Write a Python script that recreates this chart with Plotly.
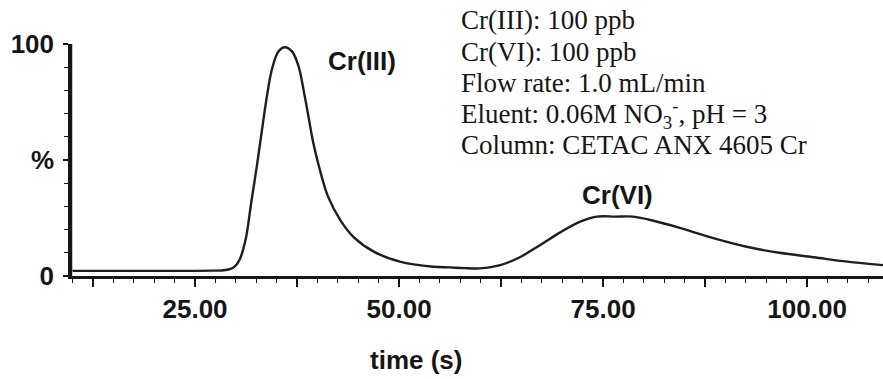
import plotly.graph_objects as go

# Chromatogram trace
time_s = [10.0, 20.0, 27.0, 28.5, 29.2, 29.7, 30.1, 30.5, 30.9, 31.3, 31.9, 32.6, 33.2, 33.8, 34.4,
          35.2, 36.0, 36.9, 37.7, 38.3, 38.9, 39.5, 40.3, 41.3, 42.8, 44.4, 46.9, 50.1,
          54.2, 56.2, 58.0, 59.9, 62.4, 64.8, 67.3, 69.7, 72.2, 74.2, 76.5, 78.7, 81.2,
          84.5, 88.5, 92.6, 96.6, 100.8, 104.9, 109.3]
intensity = [2.2, 2.2, 2.3, 2.5, 2.9, 3.7, 5.0, 7.3, 11.5, 17.5, 32.0, 48.0, 62.9, 77.3, 88.8,
             96.7, 98.6, 96.7, 90.2, 80.2, 68.7, 57.2, 45.7, 34.2, 24.1, 16.9, 10.5, 6.2,
             4.0, 3.7, 3.4, 3.3, 4.7, 8.1, 13.4, 18.7, 23.4, 25.6, 25.6, 25.6, 23.8,
             20.6, 16.3, 12.6, 10.0, 8.1, 6.2, 4.7]

x_tickvals = [12.5, 25, 37.5, 50, 62.5, 75, 87.5, 100]
x_ticktext = ["", "25.00", "", "50.00", "", "75.00", "", "100.00"]
y_tickvals = [0, 50, 100]
y_ticktext = ["0", "%", "100"]

peak_names = ["Cr(III)", "Cr(VI)"]
peak_label_x = [45.5, 76.8]
peak_label_y = [92.7, 34.9]

conditions = [
    "Cr(III): 100 ppb",
    "Cr(VI): 100 ppb",
    "Flow rate: 1.0 mL/min",
    "Eluent: 0.06M NO<sub>3</sub><sup>-</sup>, pH = 3",
    "Column: CETAC ANX 4605 Cr",
]

SANS = "Liberation Sans, Arial, sans-serif"
SERIF = "Liberation Serif, Times New Roman, serif"
INK = "#161616"

fig = go.Figure()
fig.add_trace(go.Scatter(
    x=time_s, y=intensity, mode="lines",
    line=dict(color="#1e1e1e", width=2.4, shape="spline", smoothing=1.0),
    cliponaxis=False, showlegend=False, hoverinfo="skip",
))

for name, px, py in zip(peak_names, peak_label_x, peak_label_y):
    fig.add_annotation(x=px, y=py, xref="x", yref="y", text=f"<b>{name}</b>",
                       showarrow=False, font=dict(family=SANS, size=26, color=INK),
                       xanchor="center", yanchor="middle")

line_y = [1.103, 0.966, 0.832, 0.698, 0.565]
for txt, yy in zip(conditions, line_y):
    fig.add_annotation(x=0.478, y=yy, xref="paper", yref="paper", text=txt,
                       showarrow=False, font=dict(family=SERIF, size=27, color=INK),
                       xanchor="left", yanchor="middle", align="left")

fig.add_annotation(x=0.425, y=-0.36, xref="paper", yref="paper", text="<b>time (s)</b>",
                   showarrow=False, font=dict(family=SANS, size=26, color=INK),
                   xanchor="center", yanchor="middle")

# solid vertical axis line from 0 to 100
fig.add_shape(type="line", xref="paper", yref="y", x0=0, x1=0, y0=0, y1=100,
              line=dict(color=INK, width=2.5), layer="above")

fig.update_layout(
    width=883, height=379,
    margin=dict(l=71, r=0, t=44, b=103),
    paper_bgcolor="white", plot_bgcolor="white",
    xaxis=dict(range=[9.8, 109.3], showgrid=False, zeroline=False,
               showline=True, linecolor=INK, linewidth=3,
               tickmode="array", tickvals=x_tickvals, ticktext=x_ticktext,
               ticks="outside", ticklen=8, tickwidth=1.5, tickcolor=INK,
               ticklabelstandoff=0,
               tickfont=dict(family=SANS, size=26, color=INK, weight="bold"),
               minor=dict(dtick=2.5, tick0=0, ticks="outside", ticklen=4,
                          tickwidth=1.2, tickcolor=INK)),
    yaxis=dict(range=[0, 100], showgrid=False, zeroline=False,
               showline=True, linecolor=INK, linewidth=2.5,
               tickmode="array", tickvals=y_tickvals, ticktext=y_ticktext,
               ticks="outside", ticklen=5, tickwidth=1.5, tickcolor=INK,
               ticklabelstandoff=4,
               tickfont=dict(family=SANS, size=26, color=INK, weight="bold"),
               minor=dict(dtick=10, tick0=0, ticks="outside", ticklen=4,
                          tickwidth=1.2, tickcolor=INK)),
)

fig.write_html("out.html")
